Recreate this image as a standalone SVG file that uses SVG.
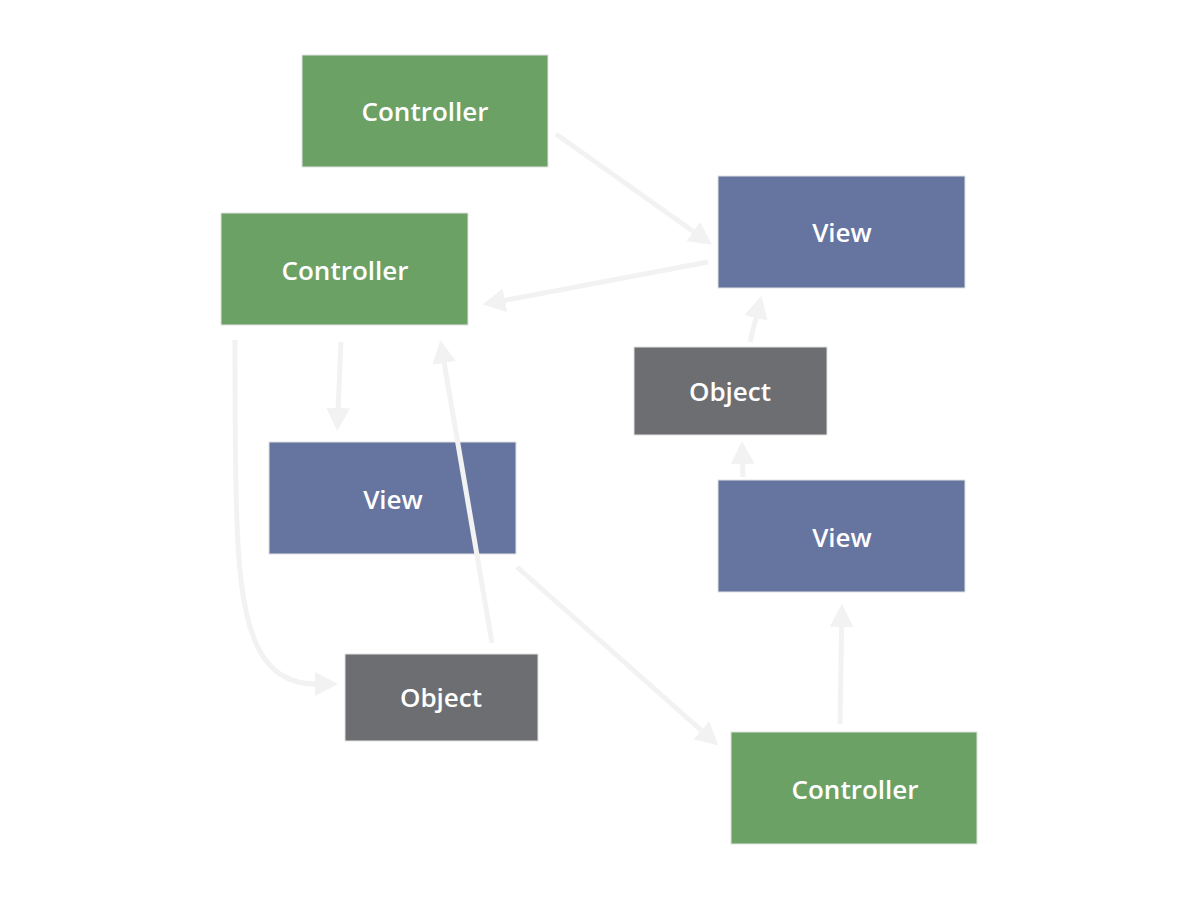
<svg xmlns="http://www.w3.org/2000/svg" width="1200" height="900" viewBox="0 0 1200 900">
<style>
.box{stroke:#e2e2e2;stroke-width:1}
.ctrl{fill:#6ca166}
.view{fill:#6674a0}
.obj{fill:#6d6e71}
.lbl{font-family:"Open Sans","DejaVu Sans",sans-serif;font-weight:600;font-size:26px;fill:#ffffff;text-anchor:middle}
.edge{fill:none;stroke:#f2f2f2;stroke-width:5;marker-end:url(#ah)}
</style>
<defs>
<marker id="ah" markerUnits="userSpaceOnUse" viewBox="0 -12 24 24" markerWidth="24" markerHeight="24" refX="1" refY="0" orient="auto">
<path d="M0,-12 L23,0 L0,12 z" fill="#f2f2f2"/>
</marker>
</defs>
<rect width="1200" height="900" fill="#ffffff"/>
<g id="controller1">
<rect class="box ctrl" x="302" y="55" width="246" height="112"/>
<text class="lbl" x="425" y="121">Controller</text>
</g>
<g id="controller2">
<rect class="box ctrl" x="221" y="213" width="247" height="112"/>
<text class="lbl" x="345" y="280">Controller</text>
</g>
<g id="view1">
<rect class="box view" x="718" y="176" width="247" height="112"/>
<text class="lbl" x="842" y="242">View</text>
</g>
<g id="object1">
<rect class="box obj" x="634" y="347" width="193" height="88"/>
<text class="lbl" x="730" y="401">Object</text>
</g>
<g id="view2">
<rect class="box view" x="718" y="480" width="247" height="112"/>
<text class="lbl" x="842" y="547">View</text>
</g>
<g id="view3">
<rect class="box view" x="269" y="442" width="247" height="112"/>
<text class="lbl" x="393" y="509">View</text>
</g>
<g id="object2">
<rect class="box obj" x="345" y="654" width="193" height="87"/>
<text class="lbl" x="441" y="707">Object</text>
</g>
<g id="controller3">
<rect class="box ctrl" x="731" y="732" width="246" height="112"/>
<text class="lbl" x="855" y="799">Controller</text>
</g>
<g id="connectors">
<path class="edge" d="M556,134 L694,232"/>
<path class="edge" d="M708,262 L504,300.5"/>
<path class="edge" d="M341,342 L338.1,409"/>
<path class="edge" d="M492,643 L444,362"/>
<path class="edge" d="M235,340 C235,430 235,530 241,580 C249,650 270,684 316,684"/>
<path class="edge" d="M517,567 L702,731"/>
<path class="edge" d="M840,724 L841.6,626"/>
<path class="edge" d="M743,477 L742.6,463"/>
<path class="edge" d="M750,342 L756.2,317"/>
</g>
</svg>
